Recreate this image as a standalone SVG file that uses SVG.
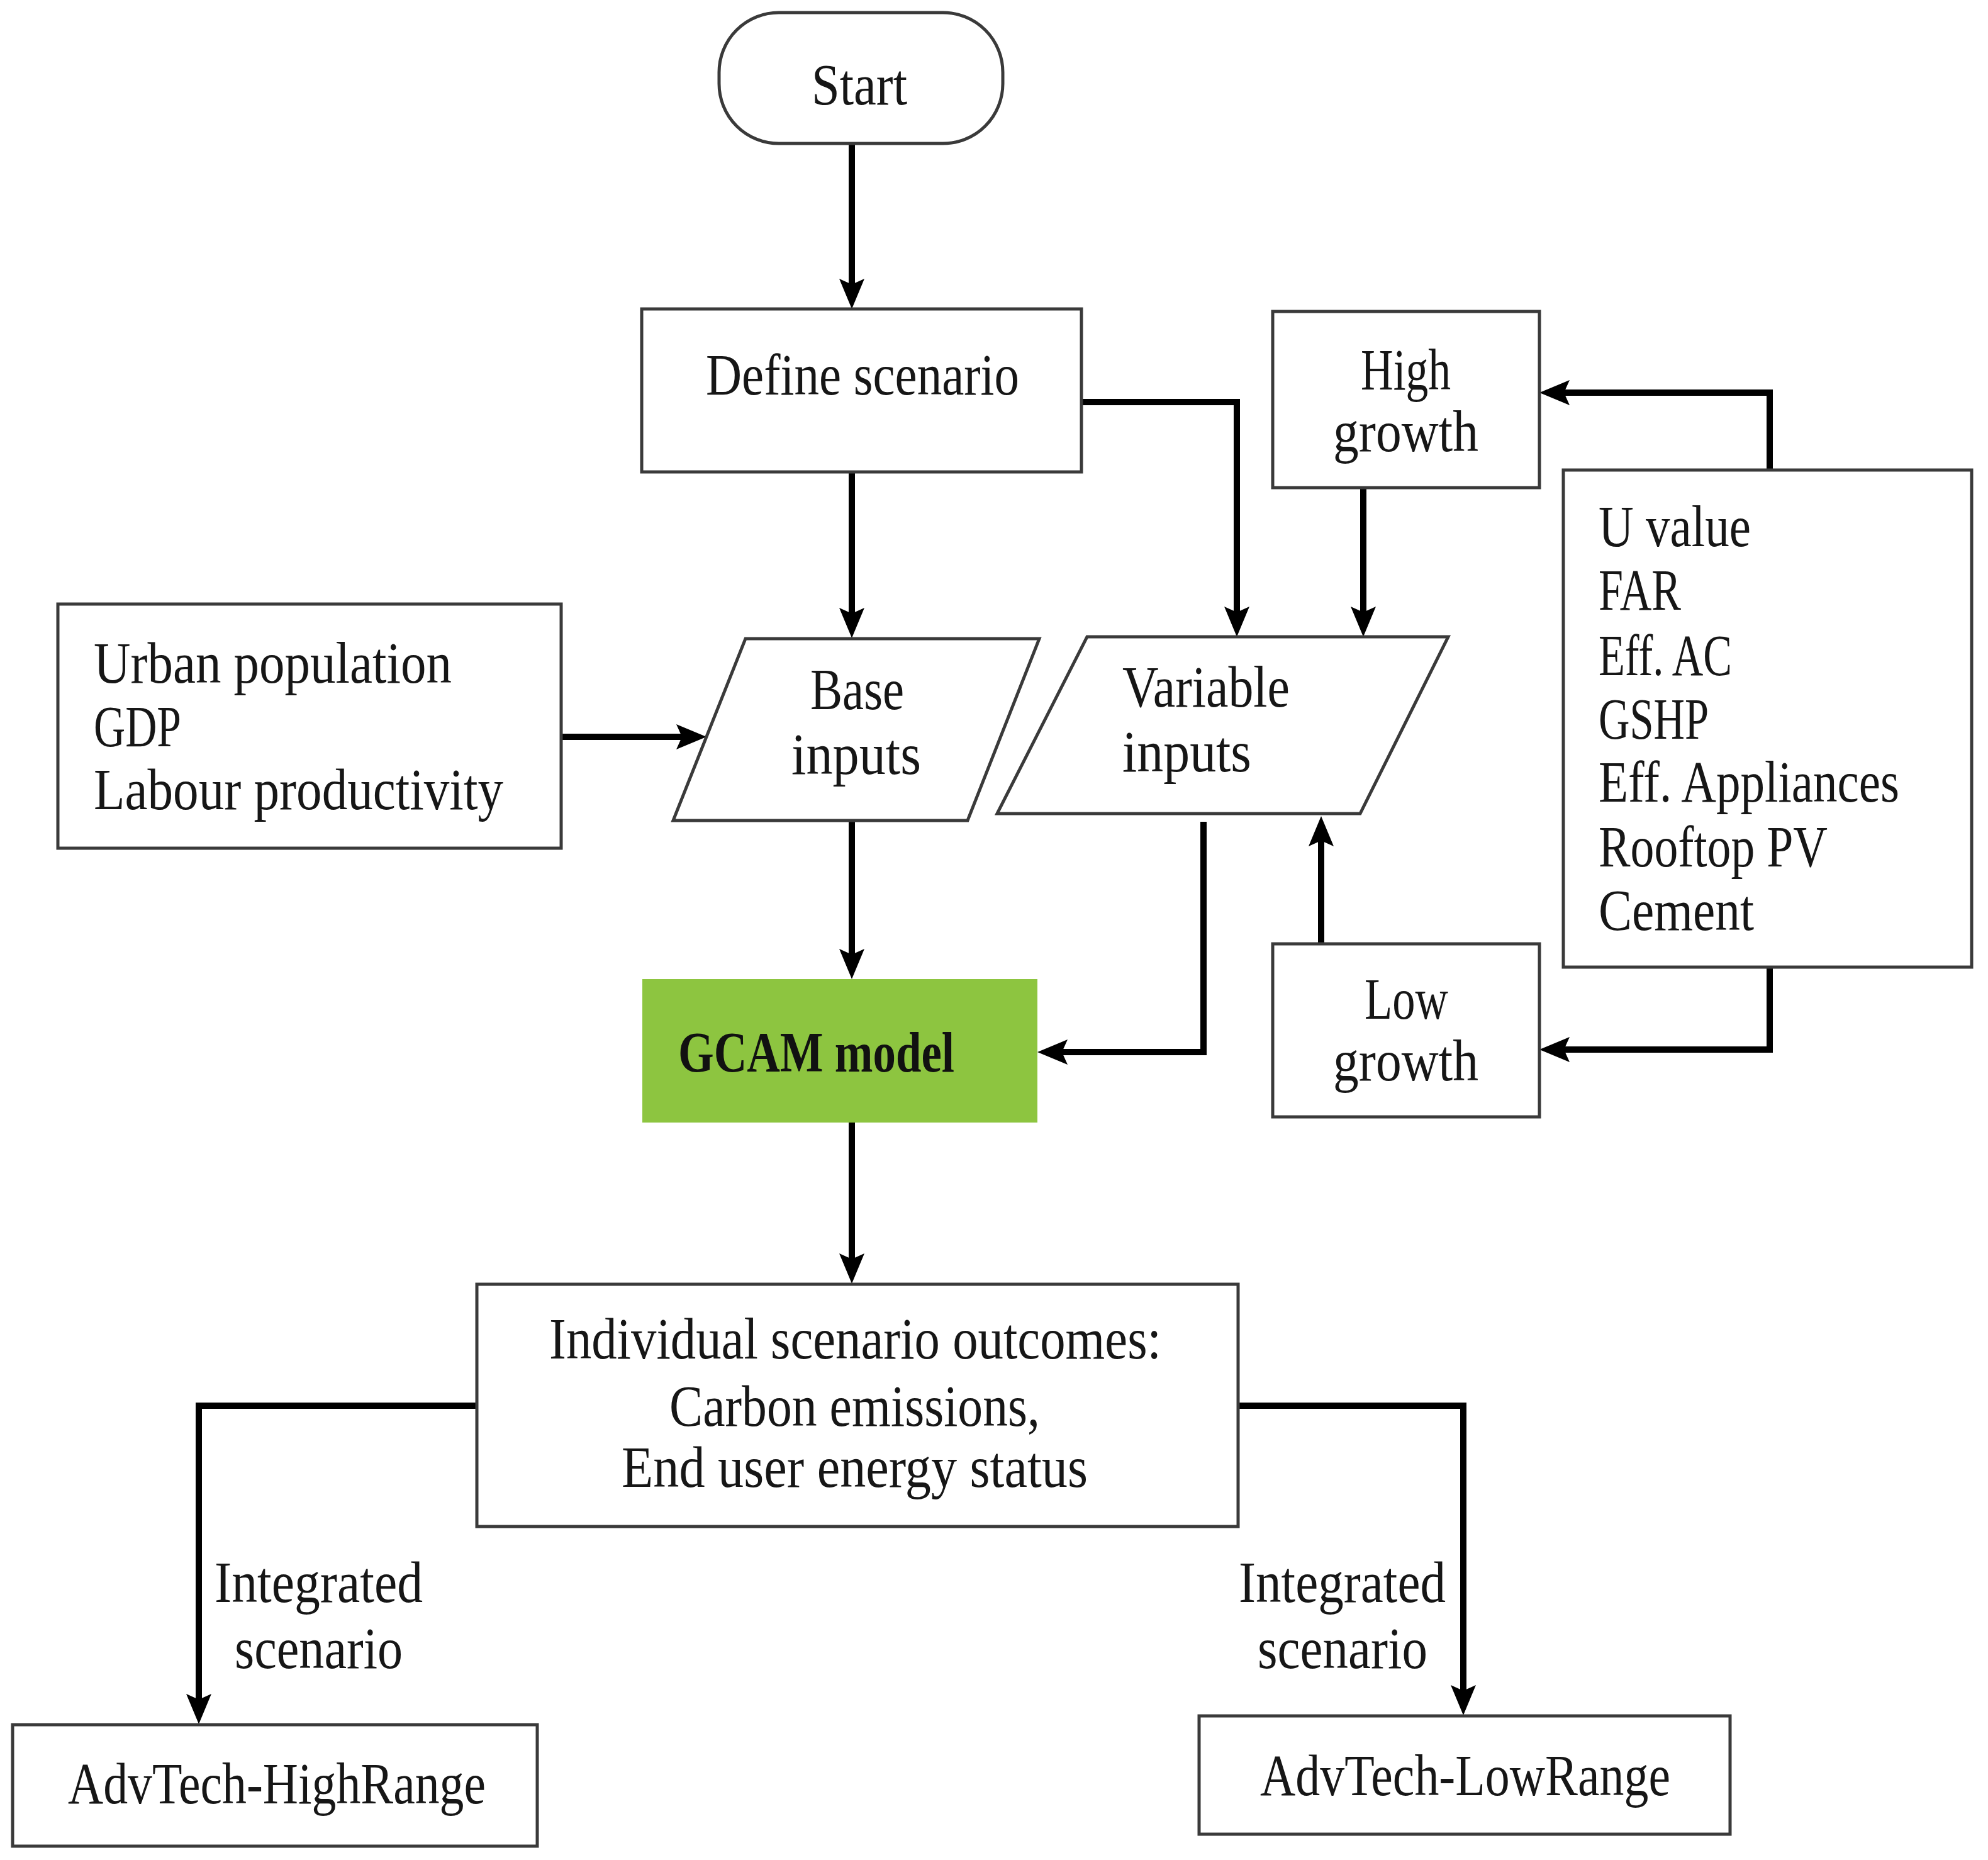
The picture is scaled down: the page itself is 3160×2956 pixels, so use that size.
<svg xmlns="http://www.w3.org/2000/svg" width="3160" height="2956" viewBox="0 0 3160 2956">
<defs>
<style>
.box{fill:#ffffff;stroke:#3a3a3a;stroke-width:5;}
.t{font-family:"Liberation Serif","Times New Roman",serif;font-size:94px;fill:#161616;}
.tb{font-family:"Liberation Serif","Times New Roman",serif;font-size:90px;font-weight:bold;fill:#111111;}
.c{fill:none;stroke:#000000;stroke-width:10;stroke-linejoin:miter;marker-end:url(#ah);}
</style>
<marker id="ah" markerUnits="userSpaceOnUse" viewBox="0 -21 48 42" markerWidth="48" markerHeight="42" refX="27" refY="0" orient="auto">
<path d="M0,-20 L48,0 L0,20 L9,0 Z" fill="#000000"/>
</marker>
</defs>
<rect width="3160" height="2956" fill="#ffffff"/>

<g id="connectors">
<path class="c" d="M1354,228 V470"/>
<path class="c" d="M1354,750 V993"/>
<path class="c" d="M1719,639 H1966 V991"/>
<path class="c" d="M2167,775 V991"/>
<path class="c" d="M2813,747 V624 H2468"/>
<path class="c" d="M2813,1537 V1668 H2468"/>
<path class="c" d="M2100,1500 V1318"/>
<path class="c" d="M892,1171 H1102"/>
<path class="c" d="M1354,1304 V1535"/>
<path class="c" d="M1913,1306 V1672 H1670"/>
<path class="c" d="M1354,1784 V2019"/>
<path class="c" d="M758,2234 H316 V2719"/>
<path class="c" d="M1968,2234 H2326 V2705"/>
</g>

<g id="start">
<rect class="box" x="1143" y="20" width="451" height="208" rx="95" ry="95"/>
<text class="t" x="1290" y="166" textLength="152" lengthAdjust="spacingAndGlyphs">Start</text>
</g>

<g id="define-scenario">
<rect class="box" x="1020" y="491" width="699" height="259"/>
<text class="t" x="1122" y="627" textLength="498" lengthAdjust="spacingAndGlyphs">Define scenario</text>
</g>

<g id="high-growth">
<rect class="box" x="2023" y="495" width="424" height="280"/>
<text class="t" x="2163" y="619" textLength="143" lengthAdjust="spacingAndGlyphs">High</text>
<text class="t" x="2119" y="717" textLength="231" lengthAdjust="spacingAndGlyphs">growth</text>
</g>

<g id="parameters">
<rect class="box" x="2485" y="747" width="649" height="790"/>
<text class="t" x="2541" y="868" textLength="242" lengthAdjust="spacingAndGlyphs">U value</text>
<text class="t" x="2541" y="969" textLength="131" lengthAdjust="spacingAndGlyphs">FAR</text>
<text class="t" x="2541" y="1073" textLength="212" lengthAdjust="spacingAndGlyphs">Eff. AC</text>
<text class="t" x="2541" y="1174" textLength="175" lengthAdjust="spacingAndGlyphs">GSHP</text>
<text class="t" x="2541" y="1274" textLength="478" lengthAdjust="spacingAndGlyphs">Eff. Appliances</text>
<text class="t" x="2541" y="1377" textLength="364" lengthAdjust="spacingAndGlyphs">Rooftop PV</text>
<text class="t" x="2541" y="1478" textLength="247" lengthAdjust="spacingAndGlyphs">Cement</text>
</g>

<g id="urban-inputs">
<rect class="box" x="92" y="960" width="800" height="388"/>
<text class="t" x="149" y="1085" textLength="569" lengthAdjust="spacingAndGlyphs">Urban population</text>
<text class="t" x="149" y="1186" textLength="139" lengthAdjust="spacingAndGlyphs">GDP</text>
<text class="t" x="149" y="1286" textLength="651" lengthAdjust="spacingAndGlyphs">Labour productivity</text>
</g>

<g id="base-inputs">
<polygon class="box" points="1185,1015 1652,1015 1538,1304 1070,1304"/>
<text class="t" x="1288" y="1127" textLength="149" lengthAdjust="spacingAndGlyphs">Base</text>
<text class="t" x="1258" y="1230" textLength="206" lengthAdjust="spacingAndGlyphs">inputs</text>
</g>

<g id="variable-inputs">
<polygon class="box" points="1728,1012 2302,1012 2162,1293 1585,1293"/>
<text class="t" x="1784" y="1123" textLength="266" lengthAdjust="spacingAndGlyphs">Variable</text>
<text class="t" x="1784" y="1226" textLength="205" lengthAdjust="spacingAndGlyphs">inputs</text>
</g>

<g id="low-growth">
<rect class="box" x="2023" y="1500" width="424" height="275"/>
<text class="t" x="2169" y="1619" textLength="133" lengthAdjust="spacingAndGlyphs">Low</text>
<text class="t" x="2119" y="1717" textLength="231" lengthAdjust="spacingAndGlyphs">growth</text>
</g>

<g id="gcam-model">
<rect x="1021" y="1556" width="628" height="228" fill="#8DC540"/>
<text class="tb" x="1078" y="1703" textLength="439" lengthAdjust="spacingAndGlyphs">GCAM model</text>
</g>

<g id="outcomes">
<rect class="box" x="758" y="2041" width="1210" height="385"/>
<text class="t" x="873" y="2159" textLength="973" lengthAdjust="spacingAndGlyphs">Individual scenario outcomes:</text>
<text class="t" x="1064" y="2266" textLength="589" lengthAdjust="spacingAndGlyphs">Carbon emissions,</text>
<text class="t" x="988" y="2363" textLength="741" lengthAdjust="spacingAndGlyphs">End user energy status</text>
</g>

<g id="label-left">
<text class="t" x="341" y="2546" textLength="331" lengthAdjust="spacingAndGlyphs">Integrated</text>
<text class="t" x="373" y="2651" textLength="267" lengthAdjust="spacingAndGlyphs">scenario</text>
</g>

<g id="label-right">
<text class="t" x="1969" y="2546" textLength="329" lengthAdjust="spacingAndGlyphs">Integrated</text>
<text class="t" x="1999" y="2651" textLength="270" lengthAdjust="spacingAndGlyphs">scenario</text>
</g>

<g id="advtech-highrange">
<rect class="box" x="20" y="2741" width="834" height="193"/>
<text class="t" x="108" y="2866" textLength="664" lengthAdjust="spacingAndGlyphs">AdvTech-HighRange</text>
</g>

<g id="advtech-lowrange">
<rect class="box" x="1906" y="2727" width="844" height="188"/>
<text class="t" x="2003" y="2853" textLength="652" lengthAdjust="spacingAndGlyphs">AdvTech-LowRange</text>
</g>
</svg>
